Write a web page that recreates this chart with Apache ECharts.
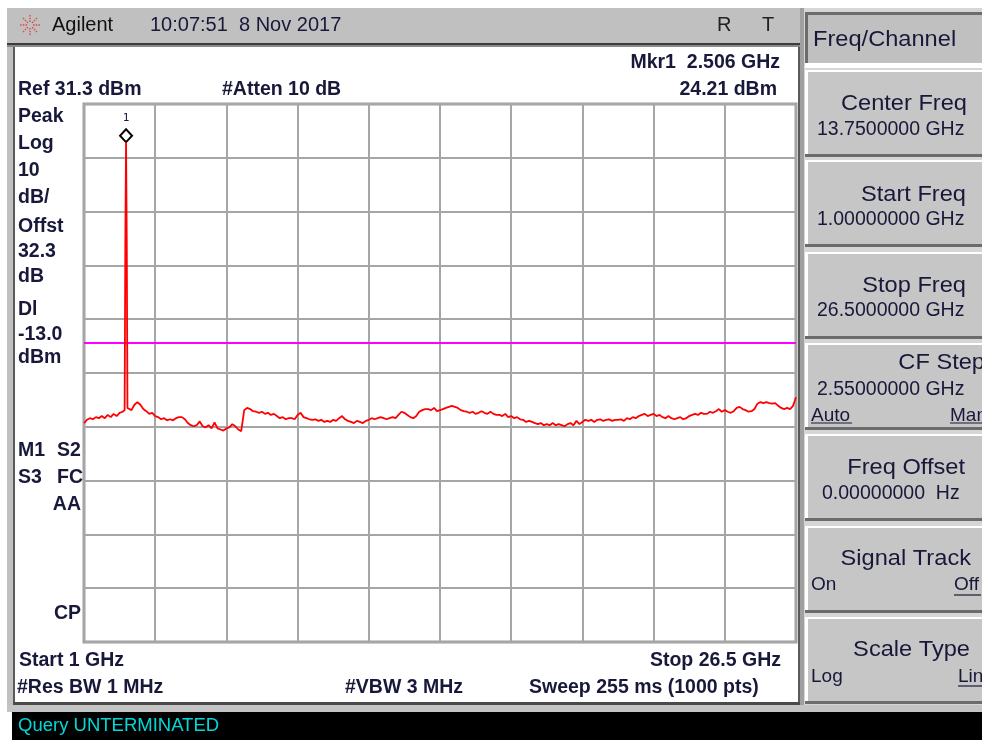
<!DOCTYPE html>
<html>
<head>
<meta charset="utf-8">
<title>Agilent spectrum 1 - 26.5 GHz</title>
<script src="https://cdn.jsdelivr.net/npm/echarts@6/dist/echarts.min.js"></script>
<style>
html, body { margin: 0; padding: 0; background: #fff; }
#chart { width: 982px; height: 740px; }
</style>
</head>
<body>
<div id="chart"></div>
<script>
// sweep settings (from the screen annotations)
var startFreq = 1.0;       // GHz
var stopFreq = 26.5;       // GHz
var refLevel = 31.3;       // dBm at top graticule
var dbPerDiv = 10;
var displayLine = -13.0;   // dBm
var markerFreq = 2.506;    // GHz
var markerLevel = 24.21;   // dBm

// noise floor, evenly spaced from start to stop (dBm)
var traceLevels = [
  -28.0, -27.4, -27.1, -27.3, -26.9, -27.1, -26.7, -27.1, -26.5, -26.9,
  -26.3, -26.7, -26.1, -25.9, -25.6, -25.4, -25.6, -24.6, -24.1, -24.6,
  -25.4, -25.8, -26.3, -26.1, -26.7, -26.9, -27.3, -27.1, -27.5, -27.3,
  -27.5, -27.1, -26.9, -26.9, -27.3, -28.0, -28.4, -28.6, -28.4, -27.7,
  -28.6, -28.8, -28.4, -29.0, -27.9, -29.0, -29.2, -29.4, -29.0, -28.8,
  -28.2, -28.6, -29.2, -29.5, -25.6, -25.2, -25.4, -25.8, -25.9, -26.1,
  -25.9, -26.3, -26.1, -26.5, -26.3, -26.7, -27.1, -26.9, -27.3, -27.1,
  -27.1, -27.3, -26.5, -26.1, -26.9, -27.1, -27.3, -27.4, -27.3, -27.6,
  -27.4, -27.8, -27.6, -27.8, -27.4, -27.6, -27.1, -26.7, -27.3, -27.6,
  -27.8, -28.0, -27.6, -27.8, -28.0, -27.6, -27.4, -27.1, -27.3, -27.1,
  -26.9, -27.1, -27.3, -27.1, -26.9, -27.1, -26.5, -25.9, -26.1, -26.5,
  -26.9, -27.1, -26.7, -25.9, -25.6, -25.4, -25.4, -25.6, -25.2, -25.8,
  -25.6, -25.4, -25.2, -25.0, -24.8, -25.0, -25.2, -25.6, -25.8, -25.9,
  -26.1, -25.9, -26.3, -26.1, -25.8, -26.1, -26.3, -25.9, -26.3, -26.5,
  -26.5, -26.7, -26.3, -26.9, -26.7, -27.1, -26.9, -27.3, -27.4, -27.8,
  -27.6, -27.8, -28.0, -28.2, -28.0, -28.4, -28.2, -28.4, -28.0, -28.4,
  -28.2, -28.4, -28.6, -28.2, -28.0, -28.4, -27.6, -28.2, -27.8, -27.4,
  -27.6, -27.4, -27.8, -27.4, -27.3, -27.6, -27.4, -27.3, -27.6, -27.4,
  -27.4, -27.3, -27.6, -27.1, -27.3, -26.9, -27.1, -26.7, -26.5, -26.3,
  -26.7, -26.5, -26.3, -26.7, -26.5, -26.9, -27.1, -26.7, -27.1, -27.3,
  -27.1, -26.9, -27.3, -27.1, -26.7, -26.5, -26.3, -26.5, -26.1, -26.3,
  -26.3, -25.9, -26.1, -25.8, -25.4, -25.9, -25.6, -25.9, -26.1, -25.8,
  -25.2, -25.0, -25.4, -25.6, -25.9, -25.8, -25.4, -24.4, -24.1, -24.3,
  -24.1, -24.3, -24.4, -24.3, -24.8, -25.2, -25.4, -25.2, -25.4, -24.8, -23.2
];

// the carrier at marker 1
var spikeFreqs = [2.455, 2.481, 2.506, 2.531, 2.557];
var spikeLevels = [-25.6, 6.0, 24.21, 6.1, -25.2];

var ink = '#18183a';
var sans = '"Liberation Sans", Arial, sans-serif';
var boldFont = 'bold 19.5px ' + sans;

/**
 * floor + carrier, sorted by frequency
 */
function buildTrace(){
	var step = (stopFreq - startFreq) / (traceLevels.length - 1);
	var lo = spikeFreqs[0];
	var hi = spikeFreqs[spikeFreqs.length - 1];
	var pts = [];
	for (var i = 0; i < traceLevels.length; i++) {
		var f = startFreq + i * step;
		if (f >= lo && f <= hi) continue;
		pts.push([f, traceLevels[i]]);
	}
	for (var j = 0; j < spikeFreqs.length; j++) {
		pts.push([spikeFreqs[j], spikeLevels[j]]);
	}
	pts.sort(function(a, b){ return a[0] - b[0]; });
	return pts;
}

function txt(x, y, s, font, align, color, sx){
	return {
		type: 'text', x: x, y: y, scaleX: sx || 1, z: 20,
		style: {
			text: s, x: 0, y: 0, font: font, fill: color || ink,
			textAlign: align || 'left', align: align || 'left',
			textVerticalAlign: 'middle', verticalAlign: 'middle'
		}
	};
}

function box(x, y, w, h, fill, z){
	return { type: 'rect', z: z || 1, shape: { x: x, y: y, width: w, height: h }, style: { fill: fill } };
}

function line(x1, y1, x2, y2, color, w, dash){
	return {
		type: 'line', z: 21,
		shape: { x1: x1, y1: y1, x2: x2, y2: y2 },
		style: { stroke: color, lineWidth: w, lineDash: dash || null }
	};
}

// softkey with a raised bevel
function softKey(top, h){
	return [
		box(805, top, 180, h, '#6c6c6c', 2),
		box(805, top, 180, h - 3, '#ffffff', 3),
		box(808, top + 2, 180, h - 5, '#c6c6c6', 4)
	];
}

function buildGraphics(){
	var g = [];
	var titleFont = '22.5px ' + sans;
	var valueFont = '19.5px ' + sans;
	var smallFont = '19px ' + sans;
	var tsx = 1.05;

	// frame
	g.push(box(7, 8, 795, 36, '#c0c0c0'));
	g.push(box(7, 43, 795, 2, '#3c3c3c'));
	g.push(box(7, 45, 795, 2, '#8a8a8a'));
	g.push(box(7, 47, 6, 660, '#c0c0c0'));
	g.push(box(13, 47, 2, 658, '#5a5a5a'));
	g.push(box(798, 47, 2, 658, '#5a5a5a'));
	g.push(box(13, 702, 787, 3, '#4a4a4a'));
	g.push(box(7, 705, 975, 7, '#c4c4c4'));
	g.push(box(12, 712, 970, 28, '#000000'));

	// right panel
	g.push(box(800, 8, 182, 697, '#d6d6d6'));
	g.push(box(800, 8, 4, 697, '#a0a0a0'));
	g.push(box(805, 12, 180, 51, '#6c6c6c', 2));
	g.push(box(808, 15, 180, 48, '#c0c0c0', 3));
	g.push(box(805, 63, 180, 5, '#ffffff', 2));
	var tops = [70, 160, 252, 343, 434, 526, 617];
	for (var k = 0; k < tops.length; k++) {
		g = g.concat(softKey(tops[k], 87));
	}

	// top bar
	var cx = 30, cy = 25;
	for (var a = 0; a < 8; a++) {
		var ang = a * Math.PI / 4;
		g.push(line(cx + 3 * Math.cos(ang), cy + 3 * Math.sin(ang),
			cx + 10 * Math.cos(ang), cy + 10 * Math.sin(ang), '#e04848', 1.4, [1.5, 1.2]));
	}
	g.push(txt(52, 25, 'Agilent', '20px ' + sans, 'left', '#111'));
	g.push(txt(150, 25, '10:07:51  8 Nov 2017', '20px ' + sans, 'left', ink));
	g.push(txt(717, 25, 'R', '20px ' + sans, 'left', '#222'));
	g.push(txt(762, 25, 'T', '20px ' + sans, 'left', '#222'));

	// screen annotations
	g.push(txt(780, 63, 'Mkr1  2.506 GHz', boldFont, 'right'));
	g.push(txt(18, 90, 'Ref 31.3 dBm', boldFont));
	g.push(txt(222, 90, '#Atten 10 dB', boldFont));
	g.push(txt(777, 90, '24.21 dBm', boldFont, 'right'));
	var side = [['Peak', 117], ['Log', 144], ['10', 171], ['dB/', 198], ['Offst', 227],
		['32.3', 252], ['dB', 277], ['Dl', 310], ['-13.0', 335], ['dBm', 358]];
	for (var s = 0; s < side.length; s++) {
		g.push(txt(18, side[s][1], side[s][0], boldFont));
	}
	g.push(txt(18, 451, 'M1', boldFont));
	g.push(txt(57, 451, 'S2', boldFont));
	g.push(txt(18, 478, 'S3', boldFont));
	g.push(txt(57, 478, 'FC', boldFont));
	g.push(txt(81, 505, 'AA', boldFont, 'right'));
	g.push(txt(81, 614, 'CP', boldFont, 'right'));
	g.push(txt(19, 661, 'Start 1 GHz', boldFont));
	g.push(txt(781, 661, 'Stop 26.5 GHz', boldFont, 'right'));
	g.push(txt(17, 688, '#Res BW 1 MHz', boldFont));
	g.push(txt(345, 688, '#VBW 3 MHz', boldFont));
	g.push(txt(529, 688, 'Sweep 255 ms (1000 pts)', boldFont));

	// softkeys
	g.push(txt(813, 40, 'Freq/Channel', titleFont, 'left', ink, tsx));
	g.push(txt(967, 104, 'Center Freq', titleFont, 'right', ink, tsx));
	g.push(txt(817, 130, '13.7500000 GHz', valueFont));
	g.push(txt(966, 195, 'Start Freq', titleFont, 'right', ink, tsx));
	g.push(txt(817, 220, '1.00000000 GHz', valueFont));
	g.push(txt(966, 286, 'Stop Freq', titleFont, 'right', ink, tsx));
	g.push(txt(817, 311, '26.5000000 GHz', valueFont));
	g.push(txt(985, 363, 'CF Step', titleFont, 'right', ink, tsx));
	g.push(txt(817, 390, '2.55000000 GHz', valueFont));
	g.push(txt(811, 416, 'Auto', smallFont));
	g.push(line(811, 423, 852, 423, ink, 1.2));
	g.push(txt(950, 416, 'Man', smallFont));
	g.push(line(950, 423, 990, 423, ink, 1.2));
	g.push(txt(965, 468, 'Freq Offset', titleFont, 'right', ink, tsx));
	g.push(txt(822, 494, '0.00000000  Hz', valueFont));
	g.push(txt(971, 559, 'Signal Track', titleFont, 'right', ink, tsx));
	g.push(txt(811, 585, 'On', smallFont));
	g.push(txt(954, 585, 'Off', smallFont));
	g.push(line(954, 595, 981, 595, ink, 1.2));
	g.push(txt(970, 650, 'Scale Type', titleFont, 'right', ink, tsx));
	g.push(txt(811, 677, 'Log', smallFont));
	g.push(txt(958, 677, 'Lin', smallFont));
	g.push(line(958, 686, 990, 686, ink, 1.2));

	// status line
	g.push(txt(18, 726, 'Query UNTERMINATED', '18.5px ' + sans, 'left', '#00d8d8'));
	return g;
}

var gridLine = { lineStyle: { color: '#a6a6a6', width: 2 } };
var floorLevel = refLevel - 10 * dbPerDiv;

var option = {
	backgroundColor: '#ffffff',
	animation: false,
	grid: {
		left: 84, top: 104, width: 712, height: 538,
		show: true, borderColor: '#9c9c9c', borderWidth: 3, backgroundColor: '#ffffff'
	},
	xAxis: [
		{ type: 'value', min: startFreq, max: stopFreq, show: false },
		// graticule: 10 divisions
		{ type: 'value', min: 0, max: 10, interval: 1, axisLine: { show: false },
			axisTick: { show: false }, axisLabel: { show: false }, splitLine: gridLine }
	],
	yAxis: [
		{ type: 'value', min: floorLevel, max: refLevel, show: false },
		{ type: 'value', min: 0, max: 10, interval: 1, axisLine: { show: false },
			axisTick: { show: false }, axisLabel: { show: false }, splitLine: gridLine }
	],
	graphic: { elements: buildGraphics() },
	series: [
		{
			type: 'line',
			xAxisIndex: 0,
			yAxisIndex: 0,
			data: buildTrace(),
			symbol: 'none',
			showSymbol: false,
			z: 5,
			lineStyle: { color: '#ff0000', width: 1.8 },
			markLine: {
				silent: true,
				symbol: 'none',
				label: { show: false },
				lineStyle: { color: '#ff00ff', width: 1.8, type: 'solid' },
				data: [{ yAxis: displayLine }]
			},
			markPoint: {
				symbol: 'diamond',
				symbolSize: [12, 13],
				symbolOffset: [0, -6.5],
				itemStyle: { color: '#ffffff', borderColor: '#000000', borderWidth: 2 },
				label: {
					show: true, formatter: '1', position: 'top', distance: 4,
					color: ink, fontSize: 11, fontFamily: '"DejaVu Sans Mono", monospace'
				},
				data: [{ coord: [markerFreq, markerLevel] }]
			}
		}
	]
};

var chart = echarts.init(document.getElementById('chart'), null, { renderer: 'canvas' });
chart.setOption(option);
</script>
</body>
</html>
